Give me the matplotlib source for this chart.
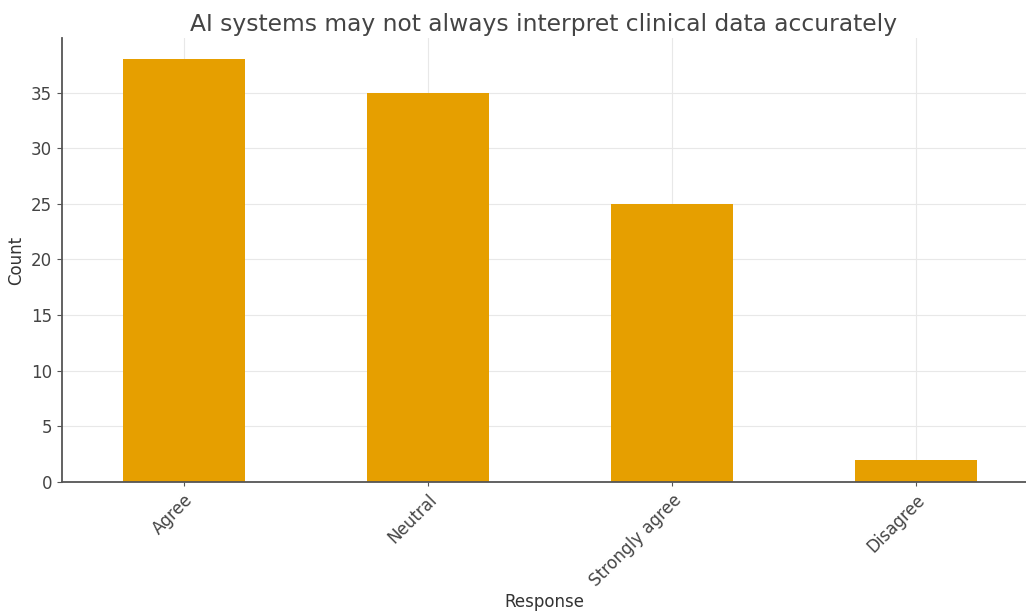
import matplotlib
matplotlib.use('Agg')
import matplotlib.pyplot as plt

responses = ['Agree', 'Neutral', 'Strongly agree', 'Disagree']
counts = [38, 35, 25, 2]

fig = plt.figure(figsize=(10.26, 6.14), dpi=100)
ax = fig.add_axes([62 / 1026, 1 - 482 / 614, (1026 - 62) / 1026, (482 - 38) / 614])

x = range(len(responses))
ax.bar(x, counts, width=0.5, color='#E69F00', zorder=2)

ax.set_xlim(-0.5, 3.45)
ax.set_ylim(0, 39.9)
ax.set_xticks(list(x))
ax.set_xticklabels(responses, rotation=45, ha='right', rotation_mode='anchor', fontsize=12, color='#444444')
ax.tick_params(axis='y', labelsize=12, labelcolor='#444444', color='#555555')
ax.tick_params(axis='x', color='#555555', length=3)
ax.set_yticks([0, 5, 10, 15, 20, 25, 30, 35])

ax.grid(True, color='#e8e8e8', linewidth=0.8, zorder=0)
for s in ['top', 'right']:
    ax.spines[s].set_visible(False)
for s in ['left', 'bottom']:
    ax.spines[s].set_color('#555555')
    ax.spines[s].set_linewidth(1.3)

ax.set_title('AI systems may not always interpret clinical data accurately', fontsize=16.8, color='#444444', pad=5)
ax.set_xlabel('Response', fontsize=12, color='#333333', labelpad=2)
ax.set_ylabel('Count', fontsize=12, color='#333333', labelpad=4)

fig.savefig('out.png', dpi=100)
